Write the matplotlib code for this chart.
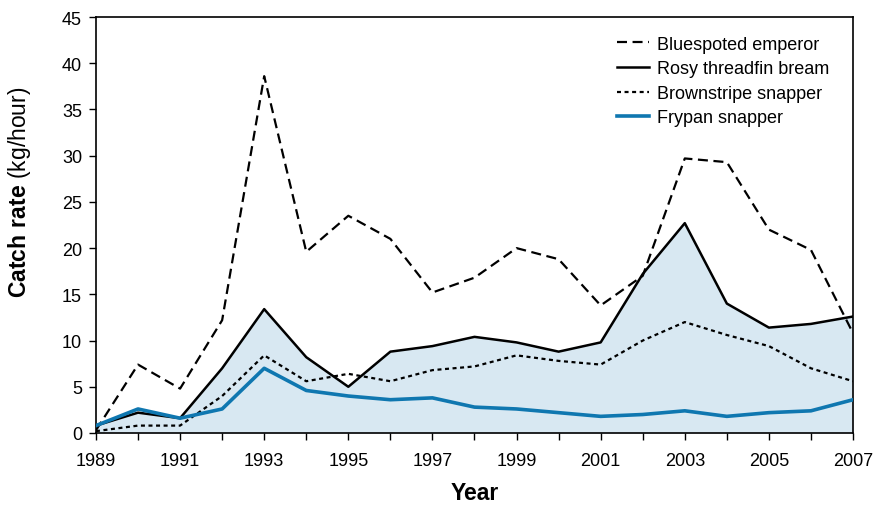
import numpy as np
import matplotlib
matplotlib.use("Agg")
import matplotlib.pyplot as plt

plt.rcParams["font.family"] = ["Liberation Sans", "DejaVu Sans"]
plt.rcParams["mathtext.fontset"] = "custom"
plt.rcParams["mathtext.rm"] = "Liberation Sans"
plt.rcParams["mathtext.bf"] = "Liberation Sans:bold"

# data
years = list(range(1989, 2008))
bluespotted = [0.3, 7.4, 4.8, 12.2, 38.6, 19.6, 23.5, 21.0, 15.2, 16.8,
               20.0, 18.8, 13.8, 17.0, 29.7, 29.3, 22.0, 19.8, 10.8]
rosy = [0.8, 2.2, 1.6, 7.0, 13.4, 8.2, 5.0, 8.8, 9.4, 10.4,
        9.8, 8.8, 9.8, 17.2, 22.7, 14.0, 11.4, 11.8, 12.6]
brownstripe = [0.2, 0.8, 0.8, 4.0, 8.4, 5.6, 6.4, 5.6, 6.8, 7.2,
               8.4, 7.8, 7.4, 10.0, 12.0, 10.6, 9.4, 7.0, 5.6]
frypan = [0.8, 2.6, 1.6, 2.6, 7.0, 4.6, 4.0, 3.6, 3.8, 2.8,
          2.6, 2.2, 1.8, 2.0, 2.4, 1.8, 2.2, 2.4, 3.6]
year_labels = [str(y) if y % 2 == 1 else "" for y in years]
y_ticks = list(range(0, 50, 5))

fig = plt.figure(figsize=(8.74, 5.06), dpi=100)
ax = fig.add_axes([0.1098, 0.1423, 0.8662, 0.8221])

ax.fill_between(years, 0, rosy, color="#d8e8f2", lw=0, zorder=1)
ax.plot(years, bluespotted, color="black", lw=1.6, dashes=(4.5, 2.5),
        label="Bluespoted emperor", zorder=3)
ax.plot(years, rosy, color="black", lw=1.8, label="Rosy threadfin bream", zorder=3)
ax.plot(years, brownstripe, color="black", lw=1.6, dashes=(1.8, 1.6),
        label="Brownstripe snapper", zorder=3)
ax.plot(years, frypan, color="#0f77b0", lw=2.6, label="Frypan snapper", zorder=4)

ax.set_xlim(1989, 2007)
ax.set_ylim(0, 45)
ax.set_xticks(years)
ax.set_xticklabels(year_labels)
ax.set_yticks(y_ticks)
ax.tick_params(direction="out", length=5, width=1, labelsize=13)
ax.tick_params(axis="x", pad=9)
ax.tick_params(axis="y", pad=5)
for s in ax.spines.values():
    s.set_linewidth(1.2)

ax.set_xlabel("Year", fontsize=16.5, fontweight="bold", labelpad=8)
ax.set_ylabel(r"$\mathbf{Catch\ rate}$ (kg/hour)", fontsize=16.5)
ax.yaxis.set_label_coords(-0.083, 0.582)

ax.legend(loc="upper left", bbox_to_anchor=(0.688, 0.955), frameon=False,
          fontsize=13, handlelength=1.8, handletextpad=0.45,
          labelspacing=0.42, borderpad=0, borderaxespad=0)

fig.savefig("out.png", dpi=100)
